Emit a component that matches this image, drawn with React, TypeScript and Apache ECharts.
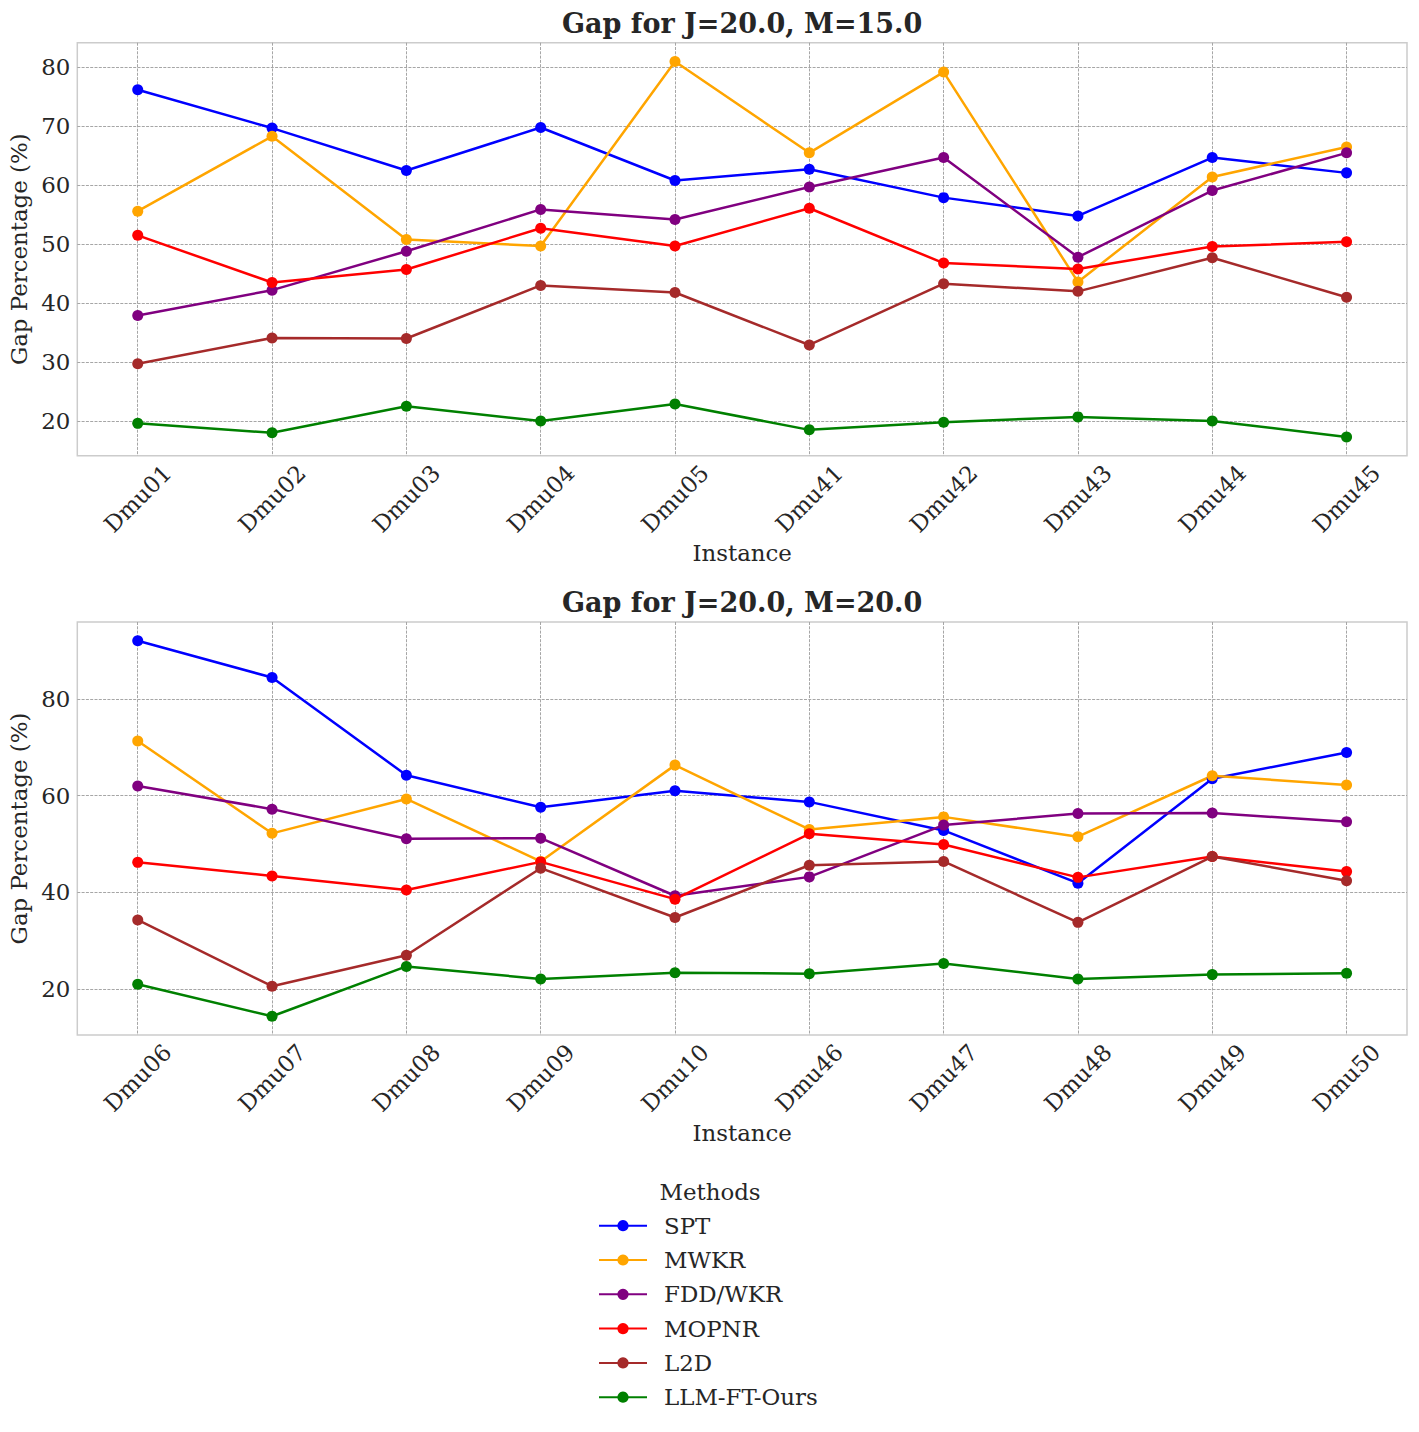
import React, { useEffect, useRef } from 'react';
import * as echarts from 'echarts';

const FONT = '"DejaVu Serif", serif';
const TEXT = '#262626';
const GRID_COLOR = '#a6a6a6';

const methods = ['SPT', 'MWKR', 'FDD/WKR', 'MOPNR', 'L2D', 'LLM-FT-Ours'];
const colors = ['#0000ff', '#ffa500', '#800080', '#ff0000', '#a52a2a', '#008000'];

const titles = ['Gap for J=20.0, M=15.0', 'Gap for J=20.0, M=20.0'];

const categories1 = ['Dmu01', 'Dmu02', 'Dmu03', 'Dmu04', 'Dmu05', 'Dmu41', 'Dmu42', 'Dmu43', 'Dmu44', 'Dmu45'];
const categories2 = ['Dmu06', 'Dmu07', 'Dmu08', 'Dmu09', 'Dmu10', 'Dmu46', 'Dmu47', 'Dmu48', 'Dmu49', 'Dmu50'];

// Top chart (J=20, M=15)
const spt1 = [76.2, 69.7, 62.5, 69.8, 60.8, 62.7, 57.9, 54.8, 64.7, 62.1];
const mwkr1 = [55.6, 68.3, 50.8, 49.7, 81.0, 65.5, 79.2, 43.6, 61.4, 66.5];
const fdd1 = [37.9, 42.2, 48.8, 55.9, 54.2, 59.7, 64.7, 47.8, 59.1, 65.5];
const mopnr1 = [51.5, 43.5, 45.7, 52.7, 49.7, 56.1, 46.8, 45.8, 49.6, 50.4];
const l2d1 = [29.7, 34.1, 34.0, 43.0, 41.8, 32.9, 43.3, 42.0, 47.7, 41.0];
const llm1 = [19.6, 18.0, 22.5, 20.0, 22.9, 18.5, 19.8, 20.7, 20.0, 17.3];

// Bottom chart (J=20, M=20)
const spt2 = [92.0, 84.4, 64.2, 57.6, 61.0, 58.7, 52.8, 41.9, 63.5, 68.9];
const mwkr2 = [71.3, 52.2, 59.3, 46.4, 66.3, 53.0, 55.6, 51.5, 64.1, 62.2];
const fdd2 = [62.0, 57.2, 51.1, 51.2, 39.3, 43.2, 53.9, 56.3, 56.4, 54.6];
const mopnr2 = [46.2, 43.4, 40.5, 46.3, 38.6, 52.1, 49.9, 43.1, 47.4, 44.3];
const l2d2 = [34.3, 20.6, 27.0, 45.0, 34.8, 45.6, 46.4, 33.8, 47.4, 42.4];
const llm2 = [21.0, 14.4, 24.7, 22.1, 23.4, 23.2, 25.3, 22.1, 23.0, 23.3];

const panels = [
  { categories: categories1, values: [spt1, mwkr1, fdd1, mopnr1, l2d1, llm1], splitNumber: 7 },
  { categories: categories2, values: [spt2, mwkr2, fdd2, mopnr2, l2d2, llm2], splitNumber: 4 },
];

function buildOption() {
  const frameLeft = 77.3;
  const frameWidth = 1329.7;
  const frameTops = [42.7, 622];
  const frameHeight = 413;

  const grid: any[] = [];
  const xAxis: any[] = [];
  const yAxis: any[] = [];
  const series: any[] = [];
  const graphic: any[] = [];

  panels.forEach((p, idx) => {
    const all = p.values.flat();
    const dmin = Math.min(...all);
    const dmax = Math.max(...all);
    const pad = (dmax - dmin) * 0.05;
    grid.push({
      left: frameLeft,
      top: frameTops[idx],
      width: frameWidth,
      height: frameHeight,
      show: true,
      borderColor: '#cccccc',
      borderWidth: 1.5,
      backgroundColor: 'transparent',
      containLabel: false,
      outerBoundsMode: 'none',
    });
    const cats = p.categories;
    xAxis.push({
      type: 'value',
      gridIndex: idx,
      min: -0.45,
      max: 9.45,
      splitNumber: 10,
      minInterval: 1,
      maxInterval: 1,
      axisLine: { show: false },
      axisTick: { show: false },
      axisLabel: {
        showMinLabel: false,
        showMaxLabel: false,
        rotate: 45,
        align: 'center',
        verticalAlign: 'middle',
        margin: 43,
        fontFamily: FONT,
        fontSize: 22.9,
        color: TEXT,
        formatter: (v: number) => {
          const i = Math.round(v);
          return Math.abs(v - i) < 1e-6 && cats[i] ? cats[i] : '';
        },
      },
      splitLine: {
        show: true,
        showMinLine: false,
        showMaxLine: false,
        lineStyle: { color: GRID_COLOR, width: 1, type: [3, 1.3] },
      },
      name: 'Instance',
      nameLocation: 'middle',
      nameGap: 86,
      nameTextStyle: { fontFamily: FONT, fontSize: 22.9, color: TEXT },
    });
    yAxis.push({
      type: 'value',
      gridIndex: idx,
      min: dmin - pad,
      max: dmax + pad,
      splitNumber: p.splitNumber,
      axisLine: { show: false },
      axisTick: { show: false },
      axisLabel: {
        showMinLabel: false,
        showMaxLabel: false,
        margin: 7,
        fontFamily: FONT,
        fontSize: 22.9,
        color: TEXT,
      },
      splitLine: {
        show: true,
        showMinLine: false,
        showMaxLine: false,
        lineStyle: { color: GRID_COLOR, width: 1, type: [3, 1.3] },
      },
      name: 'Gap Percentage (%)',
      nameLocation: 'middle',
      nameGap: 44,
      nameTextStyle: { fontFamily: FONT, fontSize: 22.9, color: TEXT },
    });
    p.values.forEach((vals, si) => {
      series.push({
        type: 'line',
        name: methods[si],
        xAxisIndex: idx,
        yAxisIndex: idx,
        data: vals.map((v, i) => [i, v]),
        symbol: 'circle',
        symbolSize: 11,
        showSymbol: true,
        lineStyle: { color: colors[si], width: 2.5 },
        itemStyle: { color: colors[si] },
        emphasis: { disabled: true },
      });
    });
    graphic.push({
      type: 'text',
      x: frameLeft + frameWidth / 2,
      y: frameTops[idx] - 19.7,
      style: {
        text: titles[idx],
        fontFamily: FONT,
        fontSize: 27,
        fontWeight: 'bold',
        fill: TEXT,
        align: 'center',
        textAlign: 'center',
        verticalAlign: 'middle',
        textVerticalAlign: 'middle',
      },
    });
  });

  graphic.push({
    type: 'text',
    x: 710,
    y: 1192,
    style: {
      text: 'Methods',
      fontFamily: FONT,
      fontSize: 22.9,
      fill: TEXT,
      align: 'center',
      textAlign: 'center',
      verticalAlign: 'middle',
      textVerticalAlign: 'middle',
    },
  });

  return {
    animation: false,
    backgroundColor: '#ffffff',
    grid,
    xAxis,
    yAxis,
    series,
    graphic,
    legend: {
      orient: 'vertical',
      left: 593,
      top: 1208.7,
      itemWidth: 48,
      itemHeight: 14,
      itemGap: 10.3,
      selectedMode: false,
      data: methods,
      textStyle: {
        fontFamily: FONT,
        fontSize: 22.9,
        color: TEXT,
        lineHeight: 24,
        padding: [0, 0, 0, 12],
      },
    },
  };
}

export default function App() {
  const ref = useRef<HTMLDivElement | null>(null);
  useEffect(() => {
    document.body.style.margin = '0';
    if (!ref.current) return;
    const chart = echarts.init(ref.current, undefined, { renderer: 'svg' });
    chart.setOption(buildOption() as any);
    return () => {
      chart.dispose();
    };
  }, []);
  return <div ref={ref} style={{ width: 1419, height: 1432 }} />;
}
